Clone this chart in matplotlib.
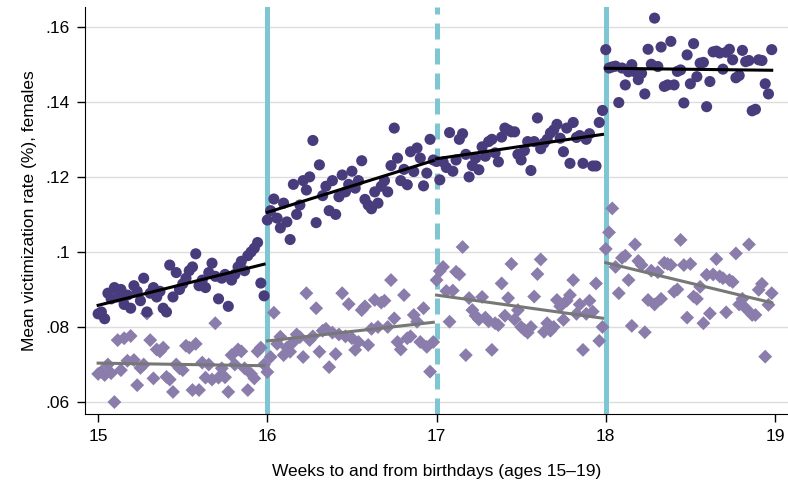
import numpy as np
import matplotlib.pyplot as plt

plt.rcParams['font.family'] = ['Liberation Sans', 'DejaVu Sans']

# weekly means, one list of 52 weeks per age
upper_15 = [.0835, .0840, .0822, .0890, .0875, .0905, .0880, .0900, .0860, .0885,
            .0850, .0910, .0895, .0870, .0930, .0840, .0890, .0905, .0880, .0895,
            .0850, .0840, .0965, .0880, .0945, .0900, .0915, .0930, .0950, .0960,
            .0995, .0910, .0925, .0905, .0945, .0970, .0935, .0875, .0930, .0940,
            .0855, .0925, .0940, .0960, .0975, .0950, .0990, .1000, .1010, .1025,
            .0917, .0883]
upper_16 = [.1085, .1110, .1141, .1090, .1064, .1130, .1080, .1033, .1180, .1100,
            .1125, .1190, .1165, .1200, .1297, .1078, .1232, .1150, .1175, .1110,
            .1190, .1100, .1147, .1205, .1160, .1180, .1215, .1170, .1190, .1243,
            .1140, .1125, .1115, .1160, .1130, .1175, .1190, .1160, .1230, .1330,
            .1250, .1190, .1220, .1179, .1267, .1214, .1277, .1250, .1176, .1210,
            .1300, .1245]
upper_17 = [.1241, .1192, .1240, .1225, .1318, .1215, .1245, .1300, .1315, .1260,
            .1200, .1230, .1250, .1219, .1280, .1255, .1294, .1300, .1264, .1240,
            .1306, .1330, .1325, .1320, .1320, .1260, .1245, .1270, .1294, .1217,
            .1294, .1357, .1275, .1290, .1300, .1317, .1325, .1340, .1303, .1267,
            .1330, .1236, .1345, .1305, .1310, .1236, .1300, .1315, .1229, .1229,
            .1345, .1377]
upper_18 = [.1539, .1490, .1493, .1495, .1398, .1490, .1445, .1480, .1499, .1480,
            .1459, .1476, .1421, .1540, .1500, .1623, .1494, .1546, .1441, .1445,
            .1561, .1445, .1481, .1485, .1397, .1525, .1448, .1555, .1467, .1503,
            .1505, .1387, .1454, .1533, .1535, .1530, .1487, .1532, .1540, .1512,
            .1464, .1470, .1537, .1507, .1510, .1376, .1380, .1512, .1510, .1448,
            .1421, .1539]

lower_15 = [.0675, .0681, .0672, .0700, .0677, .0600, .0765, .0685, .0770, .0710,
            .0776, .0712, .0645, .0691, .0700, .0836, .0765, .0663, .0740, .0735,
            .0745, .0667, .0660, .0627, .0700, .0690, .0685, .0750, .0745, .0632,
            .0755, .0632, .0705, .0665, .0700, .0660, .0810, .0665, .0690, .0666,
            .0627, .0725, .0700, .0740, .0735, .0690, .0632, .0675, .0663, .0735,
            .0745, .0700]
lower_16 = [.0680, .0720, .0838, .0755, .0774, .0725, .0745, .0734, .0760, .0780,
            .0773, .0720, .0890, .0765, .0775, .0850, .0734, .0790, .0795, .0693,
            .0785, .0728, .0780, .0890, .0775, .0861, .0770, .0739, .0760, .0845,
            .0855, .0752, .0795, .0872, .0800, .0865, .0870, .0800, .0925, .0823,
            .0760, .0740, .0885, .0770, .0775, .0832, .0814, .0760, .0850, .0747,
            .0681, .0760]
lower_17 = [.0925, .0949, .0960, .0896, .0814, .0897, .0947, .0940, .1013, .0725,
            .0877, .0845, .0830, .0820, .0880, .0825, .0815, .0739, .0810, .0805,
            .0916, .0830, .0877, .0968, .0820, .0845, .0800, .0792, .0785, .0800,
            .0881, .0941, .0980, .0787, .0810, .0790, .0800, .0872, .0855, .0819,
            .0870, .0885, .0925, .0835, .0860, .0739, .0835, .0870, .0841, .0916,
            .0763, .0800]
lower_18 = [.1008, .1052, .1116, .0960, .0890, .0984, .0990, .0925, .0803, .1020,
            .0976, .0965, .0786, .0872, .0950, .0860, .0946, .0875, .0971, .0968,
            .0965, .0894, .0900, .1032, .0965, .0825, .0968, .0881, .0875, .0907,
            .0810, .0939, .0836, .0940, .0981, .0935, .0930, .0839, .0925, .0920,
            .0996, .0860, .0875, .0850, .1020, .0832, .0832, .0899, .0915, .0721,
            .0859, .0890]

ages = [15, 16, 17, 18]
upper = [upper_15, upper_16, upper_17, upper_18]
lower = [lower_15, lower_16, lower_17, lower_18]
yticks = [.06, .08, .1, .12, .14, .16]
ytick_labels = ['.06', '.08', '.1', '.12', '.14', '.16']

dark = '#483c7c'
light = '#8b7dab'
cyan = '#7fc6d3'

fig = plt.figure(figsize=(7.88, 4.90), dpi=100)
ax = fig.add_axes([0.108, 0.155, 0.892, 0.831])

# cutoffs
for a in [16, 18]:
    ax.axvline(a, color=cyan, lw=3.6, zorder=1)
ax.axvline(17, color=cyan, lw=3.6, ls=(0, (3.2, 1.8)), zorder=1)

for a, up, lo in zip(ages, upper, lower):
    x = a + np.arange(len(up)) / len(up)
    ax.scatter(x, lo, marker='D', s=50, color=light, edgecolors='none', zorder=2)
    ax.scatter(x, up, marker='o', s=64, color=dark, edgecolors='none', zorder=3)
    xx = np.array([x[0], x[-1]])
    cu = np.polyfit(x, up, 1)
    cl = np.polyfit(x, lo, 1)
    ax.plot(xx, np.polyval(cl, xx), color='#777777', lw=2.2, zorder=4)
    ax.plot(xx, np.polyval(cu, xx), color='black', lw=2.2, zorder=5)

ax.set_xlim(14.923, 19.077)
ax.set_ylim(.0568, .1653)
ax.set_xticks([15, 16, 17, 18, 19])
ax.set_yticks(yticks)
ax.set_yticklabels(ytick_labels)
ax.yaxis.grid(True, color='#dddddd', lw=1)
ax.set_axisbelow(True)
for s in ['top', 'right']:
    ax.spines[s].set_visible(False)
ax.tick_params(direction='out', length=6, width=1, labelsize=12.5, pad=5)
ax.set_xlabel('Weeks to and from birthdays (ages 15\u201319)', fontsize=12.5, labelpad=14)
ax.set_ylabel('Mean victimization rate (%), females', fontsize=12.5, labelpad=6)

fig.savefig('out.png', dpi=100)
